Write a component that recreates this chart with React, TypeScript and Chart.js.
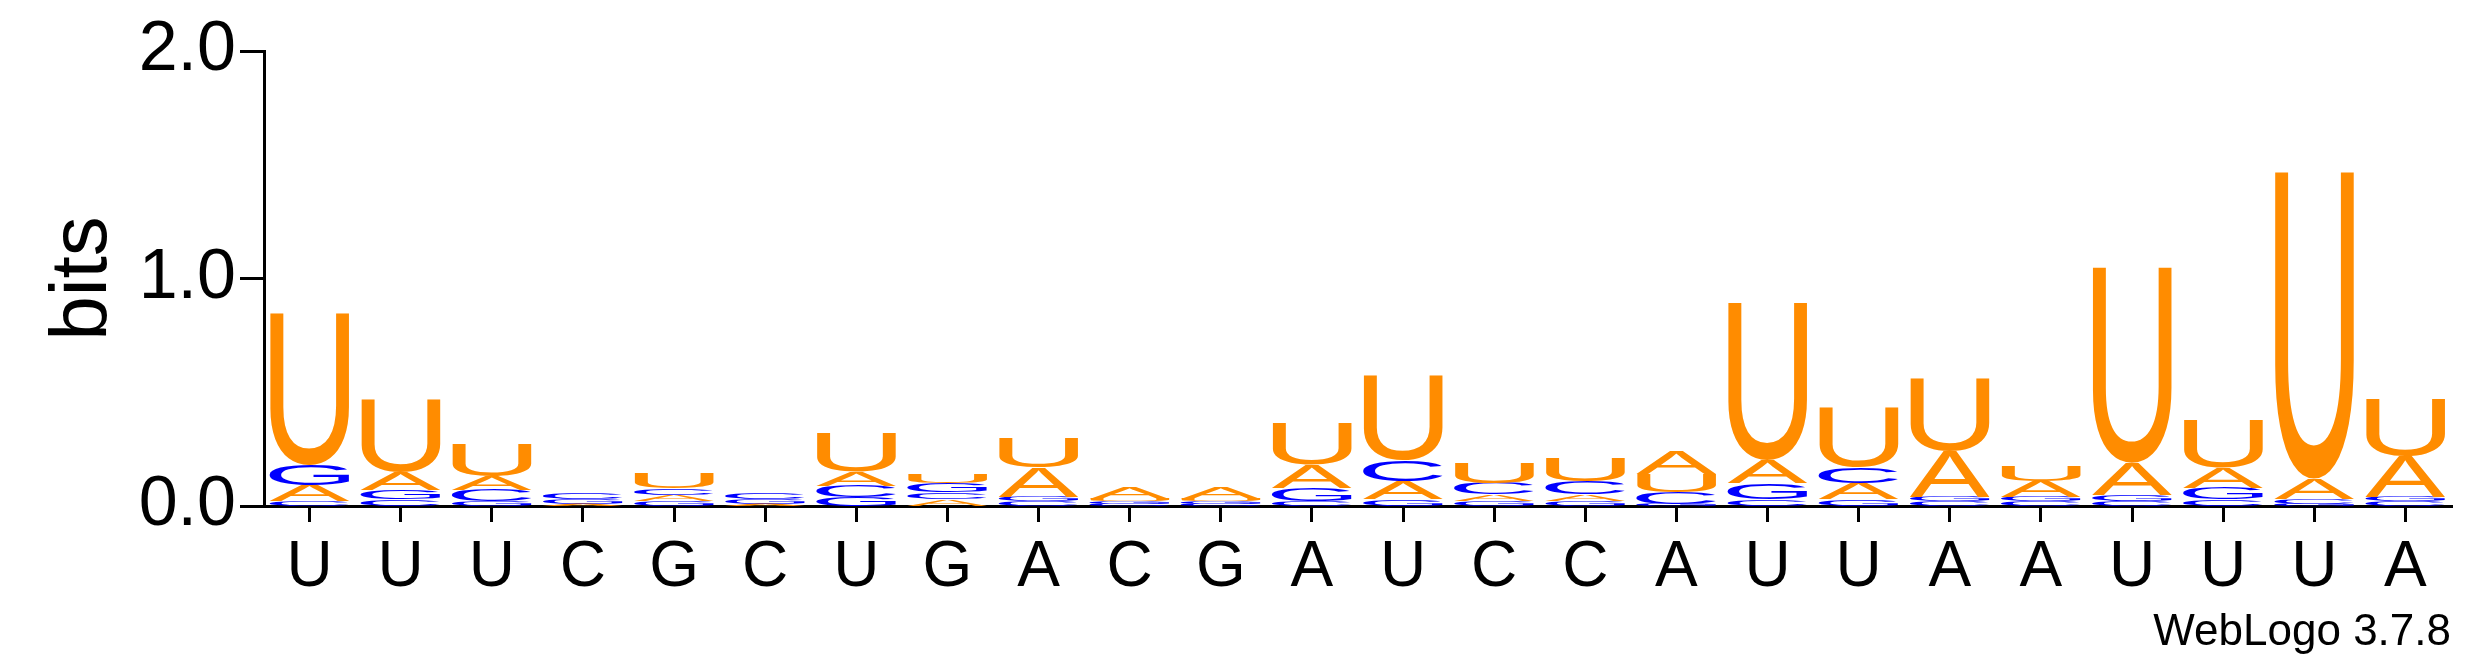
import { useEffect, useRef } from "react";
import { Chart, registerables, type Plugin } from "chart.js";

Chart.register(...registerables);

// 配列の並びは位置 1..24
const positions = ["U","U","U","C","G","C","U","G","A","C","G","A","U","C","C","A","U","U","A","A","U","U","U","A"];
const bitsA = [0.07,0.08,0.06,0.01,0.03,0.01,0.06,0.03,0.13,0.05,0.05,0.10,0.08,0.03,0.03,0.10,0.10,0.07,0.20,0.07,0.14,0.09,0.09,0.18];
const bitsC = [0.02,0.03,0.05,0.03,0.03,0.03,0.05,0.03,0.02,0.01,0.01,0.02,0.09,0.05,0.06,0.05,0.03,0.07,0.02,0.02,0.02,0.03,0.02,0.02];
const bitsG = [0.09,0.04,0.02,0.02,0.02,0.02,0.04,0.04,0.02,0.01,0.01,0.06,0.03,0.02,0.02,0.01,0.07,0.03,0.02,0.02,0.03,0.05,0.01,0.02];
const bitsU = [0.67,0.32,0.14,0.00,0.07,0.00,0.17,0.04,0.13,0.01,0.01,0.18,0.37,0.09,0.10,0.08,0.69,0.26,0.32,0.07,0.86,0.21,1.35,0.25];
const yTicks = [0, 1, 2];

const letters = ["A", "C", "G", "U"];
const colours: Record<string, string> = { A: "#ff8c00", C: "#0000ff", G: "#0000ff", U: "#ff8c00" };
const FONT = "'Liberation Sans', Arial, sans-serif";

// 各列の文字を高さ順に積み、縦横に引き伸ばして描く
const logoPlugin: Plugin<"bar"> = {
  id: "logo",
  afterDatasetsDraw(chart) {
    const { ctx } = chart;
    const y = chart.scales.y;
    const meta = chart.getDatasetMeta(0);
    const series = [bitsA, bitsC, bitsG, bitsU];
    ctx.save();
    ctx.font = `100px ${FONT}`;
    positions.forEach((_, j) => {
      const bar = meta.data[j] as any;
      const w = bar.width;
      const x0 = bar.x - w / 2;
      const stack = letters
        .map((l, k) => ({ l, v: series[k][j] }))
        .filter((s) => s.v > 0)
        .sort((a, b) => a.v - b.v);
      let cum = 0;
      for (const s of stack) {
        const bottom = y.getPixelForValue(cum);
        cum += s.v;
        const top = y.getPixelForValue(cum);
        const h = bottom - top;
        if (h < 0.3) continue;
        const m = ctx.measureText(s.l);
        const gh = m.actualBoundingBoxAscent + m.actualBoundingBoxDescent;
        const gw = m.actualBoundingBoxLeft + m.actualBoundingBoxRight;
        ctx.save();
        ctx.translate(x0, bottom);
        ctx.scale(w / gw, h / gh);
        ctx.fillStyle = colours[s.l];
        ctx.textBaseline = "alphabetic";
        ctx.fillText(s.l, m.actualBoundingBoxLeft, -m.actualBoundingBoxDescent);
        ctx.restore();
      }
    });
    ctx.font = `44px ${FONT}`;
    ctx.fillStyle = "#000";
    ctx.textAlign = "right";
    ctx.textBaseline = "alphabetic";
    ctx.fillText("WebLogo 3.7.8", chart.width - 24, chart.height - 22);
    ctx.restore();
  },
};

export default function App() {
  const canvasRef = useRef<HTMLCanvasElement>(null);

  useEffect(() => {
    document.body.style.margin = "0";
    const el = canvasRef.current;
    if (!el) return;
    const total = positions.map((_, j) => bitsA[j] + bitsC[j] + bitsG[j] + bitsU[j]);
    const chart = new Chart(el, {
      type: "bar",
      data: {
        labels: positions,
        datasets: [{ data: total, backgroundColor: "rgba(0,0,0,0)", categoryPercentage: 1, barPercentage: 0.88 }],
      },
      options: {
        animation: false,
        responsive: false,
        layout: { padding: { left: 0, top: 51, right: 24, bottom: 0 } },
        plugins: { legend: { display: false }, tooltip: { enabled: false } },
        scales: {
          x: {
            grid: { display: true, drawOnChartArea: false, offset: false, color: "#000", lineWidth: 3, tickLength: 16 },
            border: { color: "#000", width: 3 },
            ticks: { color: "#000", font: { family: FONT, size: 64 }, padding: 8, maxRotation: 0, autoSkip: false },
            afterFit: (s: any) => { s.height = 161; },
          },
          y: {
            min: 0,
            max: 2,
            afterBuildTicks: (s: any) => { s.ticks = yTicks.map((v) => ({ value: v })); },
            grid: { display: true, drawOnChartArea: false, color: "#000", lineWidth: 3, tickLength: 24 },
            border: { color: "#000", width: 3 },
            ticks: { color: "#000", font: { family: FONT, size: 70 }, padding: 4, callback: (v: any) => Number(v).toFixed(1) },
            title: { display: true, text: "bits", color: "#000", font: { family: FONT, size: 80 }, padding: { top: 36, bottom: 0 } },
            afterFit: (s: any) => { s.width = 264; },
          },
        },
      },
      plugins: [logoPlugin],
    });
    return () => chart.destroy();
  }, []);

  return (
    <div style={{ width: 2475, height: 667, background: "#fff" }}>
      <canvas ref={canvasRef} width={2475} height={667} style={{ width: 2475, height: 667 }} />
    </div>
  );
}
